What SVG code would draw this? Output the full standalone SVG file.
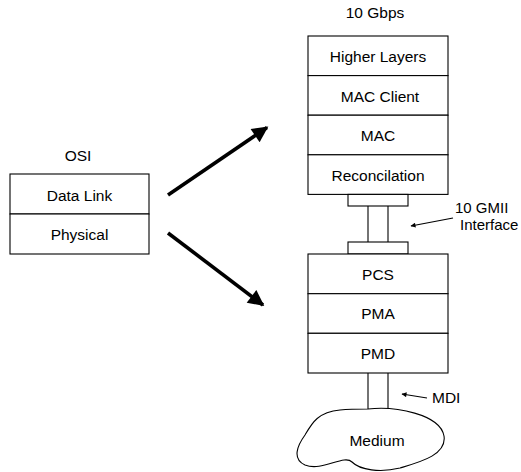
<svg xmlns="http://www.w3.org/2000/svg" width="521" height="472" viewBox="0 0 521 472">
<defs>
<style>
.box{fill:#fff;stroke:#000;stroke-width:1.1}
.t{font-family:"Liberation Sans",Arial,sans-serif;font-size:15.5px;fill:#000;text-anchor:middle}
.tl{font-family:"Liberation Sans",Arial,sans-serif;font-size:15.5px;fill:#000;text-anchor:start}
.thick{stroke:#000;stroke-width:3.6;fill:none}
.thin{stroke:#000;stroke-width:1.1;fill:none}
</style>
<marker id="big" viewBox="0 0 10 10" refX="9" refY="5" markerUnits="userSpaceOnUse" markerWidth="20" markerHeight="16" orient="auto">
<path d="M0,0 L10,5 L0,10 Z" fill="#000"/>
</marker>
<marker id="small" viewBox="0 0 10 10" refX="9" refY="5" markerUnits="userSpaceOnUse" markerWidth="8" markerHeight="5" orient="auto">
<path d="M0,0 L10,5 L0,10 Z" fill="#000"/>
</marker>
</defs>
<rect width="521" height="472" fill="#fff"/>

<g id="osi">
<text class="t" x="78" y="161">OSI</text>
<rect class="box" x="10" y="174" width="139" height="40"/>
<text class="t" x="79.5" y="201">Data Link</text>
<rect class="box" x="10" y="214" width="139" height="40"/>
<text class="t" x="79.5" y="240">Physical</text>
</g>

<g id="upper-stack">
<text class="t" x="375" y="18">10 Gbps</text>
<rect class="box" x="308" y="36" width="140" height="39.6"/>
<text class="t" x="378" y="62">Higher Layers</text>
<rect class="box" x="308" y="75.6" width="140" height="39.6"/>
<text class="t" x="380" y="102">MAC Client</text>
<rect class="box" x="308" y="115.2" width="140" height="39.6"/>
<text class="t" x="378" y="141">MAC</text>
<rect class="box" x="308" y="154.8" width="140" height="39.6"/>
<text class="t" x="378" y="181">Reconcilation</text>
</g>

<g id="gmii">
<rect class="box" x="348" y="194.4" width="60" height="11.6"/>
<line class="thin" x1="368" y1="206" x2="368" y2="242"/>
<line class="thin" x1="388" y1="206" x2="388" y2="242"/>
<rect class="box" x="348" y="242" width="60" height="12"/>
<text class="tl" x="455" y="213" style="font-size:15px">10 GMII</text>
<text class="tl" x="460" y="230" style="font-size:15px">Interface</text>
</g>

<g id="lower-stack">
<rect class="box" x="308" y="254" width="140" height="39.7"/>
<text class="t" x="378" y="280">PCS</text>
<rect class="box" x="308" y="293.7" width="140" height="39.6"/>
<text class="t" x="378" y="319">PMA</text>
<rect class="box" x="308" y="333.3" width="140" height="39.7"/>
<text class="t" x="378" y="359">PMD</text>
</g>

<g id="mdi">
<line class="thin" x1="368" y1="373" x2="368" y2="409"/>
<line class="thin" x1="388" y1="373" x2="388" y2="409"/>
<text class="tl" x="432" y="403">MDI</text>
</g>

<g id="medium">
<path class="box" d="M 368 409 C 395 406, 440 414, 444 436 C 447 455, 420 462, 400 468 C 380 473, 360 470, 352 462 C 344 454, 322 472, 305 465 C 292 459, 297 446, 305 435 C 312 423, 318 412, 340 410 C 350 409, 360 409, 368 409 Z"/>
<text class="t" x="377" y="446">Medium</text>
</g>

<g id="connectors">
<line class="thick" x1="168" y1="195" x2="267" y2="127.5" marker-end="url(#big)"/>
<line class="thick" x1="168" y1="233" x2="263" y2="305" marker-end="url(#big)"/>
<line class="thin" x1="453" y1="218" x2="411" y2="226" marker-end="url(#small)"/>
<line class="thin" x1="427" y1="398" x2="402" y2="394" marker-end="url(#small)"/>
</g>
</svg>
